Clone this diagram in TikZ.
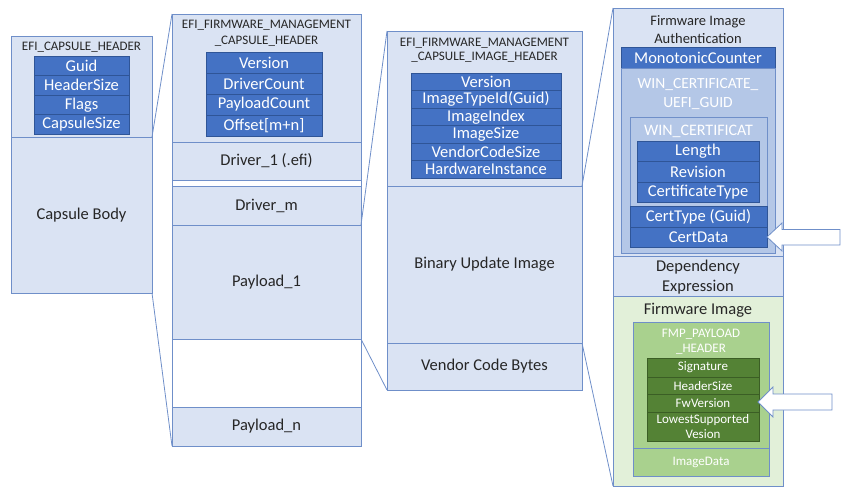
\documentclass[tikz,border=0pt]{standalone}
\usepackage{fontspec}
\setmainfont{Carlito}
\definecolor{lb}{HTML}{DAE3F3}
\definecolor{bd}{HTML}{6F8FC9}
\definecolor{db}{HTML}{4472C4}
\definecolor{dbd}{HTML}{2F5597}
\definecolor{mb}{HTML}{B4C7E7}
\definecolor{lg}{HTML}{E2F0D9}
\definecolor{mg}{HTML}{A9D18E}
\definecolor{dg}{HTML}{548235}
\definecolor{dgd}{HTML}{3B5E25}
\definecolor{tx}{HTML}{262626}
\tikzset{
  base/.style={rectangle, inner sep=0pt, outer sep=0pt, line width=0.8pt, align=center},
  lbox/.style={base, draw=bd, fill=lb, text=tx, font=\fontsize{16.5}{18}\selectfont},
  gapbox/.style={base, draw=bd, fill=white},
  field/.style={base, draw=dbd, fill=db, text=white, font=\fontsize{16.5}{18}\selectfont},
  mbox/.style={base, draw=bd, fill=mb},
  gbox/.style={base, draw=bd, fill=lg},
  mgbox/.style={base, draw=bd, fill=mg, text=white, font=\fontsize{13}{15}\selectfont},
  gfield/.style={base, draw=dgd, fill=dg, text=white, font=\fontsize{13}{15}\selectfont},
  ttl/.style={inner sep=0pt, align=center, text=tx},
  wttl/.style={inner sep=0pt, align=center, text=white},
  conn/.style={draw=bd, line width=0.8pt},
  blockarrow/.style={draw=bd, fill=white, line width=0.8pt, line join=miter},
}
\newcommand\bx[7]{%
  \pgfmathsetmacro\bw{#4-#2}\pgfmathsetmacro\bh{#5-#3}%
  \node[#6, minimum width=\bw pt, minimum height=\bh pt] (#1) at ({(#2+#4)/2},{(#3+#5)/2}) {#7};}
\begin{document}
\begin{tikzpicture}[x=1pt,y=-1pt]
\useasboundingbox (0,0) rectangle (853,498);
% ---------- Column 1
\bx{c1head}{11}{36}{152}{137}{lbox}{}
\bx{c1body}{11}{137}{152}{293}{lbox}{Capsule Body}
\node[ttl, font=\fontsize{13}{15}\selectfont] (c1t) at (81.5,47) {EFI\_CAPSULE\_HEADER};
\bx{c1f1}{34}{56}{129}{75.5}{field}{Guid}
\bx{c1f2}{34}{75.5}{129}{95}{field}{HeaderSize}
\bx{c1f3}{34}{95}{129}{114.5}{field}{Flags}
\bx{c1f4}{34}{114.5}{129}{134}{field}{CapsuleSize}
% ---------- Column 2
\bx{c2head}{172}{14}{361}{142}{lbox}{}
\node[ttl, font=\fontsize{13}{16}\selectfont] (c2t) at (266.5,33) {EFI\_FIRMWARE\_MANAGEMENT\\\_CAPSULE\_HEADER};
\bx{c2f1}{206}{52}{322}{73}{field}{Version}
\bx{c2f2}{206}{73}{322}{94}{field}{DriverCount}
\bx{c2f3}{206}{94}{322}{115}{field}{PayloadCount}
\bx{c2f4}{206}{115}{322}{136}{field}{Offset[m+n]}
\bx{d1}{172}{142}{361}{180}{lbox}{Driver\_1 (.efi)}
\bx{g1}{172}{180}{361}{186}{gapbox}{}
\bx{dm}{172}{186}{361}{225}{lbox}{Driver\_m}
\bx{p1}{172}{225}{361}{339}{lbox}{Payload\_1}
\bx{g2}{172}{339}{361}{407}{gapbox}{}
\bx{pn}{172}{407}{361}{446}{lbox}{Payload\_n}
% ---------- Column 3
\bx{c3head}{387}{31}{582}{186}{lbox}{}
\node[ttl, font=\fontsize{13}{14.5}\selectfont] (c3t) at (484.5,50) {EFI\_FIRMWARE\_MANAGEMENT\\\_CAPSULE\_IMAGE\_HEADER};
\bx{c3f1}{411}{73}{561}{90.5}{field}{Version}
\bx{c3f2}{411}{90.5}{561}{108}{field}{ImageTypeId(Guid)}
\bx{c3f3}{411}{108}{561}{125.5}{field}{ImageIndex}
\bx{c3f4}{411}{125.5}{561}{143}{field}{ImageSize}
\bx{c3f5}{411}{143}{561}{160.5}{field}{VendorCodeSize}
\bx{c3f6}{411}{160.5}{561}{178}{field}{HardwareInstance}
\bx{bin}{387}{186}{582}{343}{lbox}{Binary Update Image}
\bx{vcb}{387}{343}{582}{390}{lbox}{Vendor Code Bytes}
% ---------- Column 4
\bx{auth}{613}{8}{783}{256}{lbox}{}
\node[ttl, font=\fontsize{14.5}{18}\selectfont] (autht) at (698,30) {Firmware Image\\Authentication};
\bx{mono}{621}{47}{775}{68}{field}{MonotonicCounter}
\bx{wcg}{621}{68}{775}{253}{mbox}{}
\node[wttl, font=\fontsize{15.5}{19}\selectfont] (wcgt) at (698,94.5) {WIN\_CERTIFICATE\_\\UEFI\_GUID};
\bx{wc}{630}{117}{767}{206}{mbox}{}
\node[wttl, font=\fontsize{16}{18}\selectfont] (wct) at (698.5,131) {WIN\_CERTIFICAT};
\bx{wf1}{637}{141}{759}{161.5}{field}{Length}
\bx{wf2}{637}{161.5}{759}{182}{field}{Revision}
\bx{wf3}{637}{182}{759}{202.5}{field}{CertificateType}
\bx{ctype}{630}{206}{767}{227}{field}{CertType (Guid)}
\bx{cdata}{630}{227}{767}{247}{field}{CertData}
\bx{dep}{613}{256}{783}{296}{lbox}{}
\node[ttl, font=\fontsize{16.5}{20}\selectfont] (dept) at (698,277) {Dependency\\Expression};
\bx{fw}{613}{296}{783}{486}{gbox}{}
\node[ttl, font=\fontsize{16.5}{18}\selectfont] (fwt) at (698,310) {Firmware Image};
\bx{fmp}{633}{322}{769}{448}{mgbox}{}
\node[wttl, font=\fontsize{13}{15}\selectfont] (fmpt) at (701,341.5) {FMP\_PAYLOAD\\\_HEADER};
\bx{gf1}{647}{358}{759}{377}{gfield}{Signature}
\bx{gf2}{647}{377}{759}{394.5}{gfield}{HeaderSize}
\bx{gf3}{647}{394.5}{759}{412}{gfield}{FwVersion}
\bx{gf4}{647}{412}{759}{441}{gfield}{\fontsize{13}{14.5}\selectfont LowestSupported\\Vesion}
\bx{idata}{633}{448}{769}{476}{mgbox}{ImageData}
% ---------- connectors
\draw[conn] (c1head.south east) -- (c2head.north west);
\draw[conn] (c1body.south east) -- (pn.south west);
\draw[conn] (dm.south east) -- (c3head.north west);
\draw[conn] (p1.south east) -- (vcb.south west);
\draw[conn] (c3head.south east) -- (auth.north west);
\draw[conn] (bin.south east) -- (fw.south west);
% ---------- block arrows
\draw[blockarrow] (767,237) -- (782,223) -- (782,229.5) -- (840,229.5) -- (840,245) -- (782,245) -- (782,251) -- cycle;
\draw[blockarrow] (758,402) -- (773,387) -- (773,394) -- (832,394) -- (832,410) -- (773,410) -- (773,417) -- cycle;
\end{tikzpicture}
\end{document}
